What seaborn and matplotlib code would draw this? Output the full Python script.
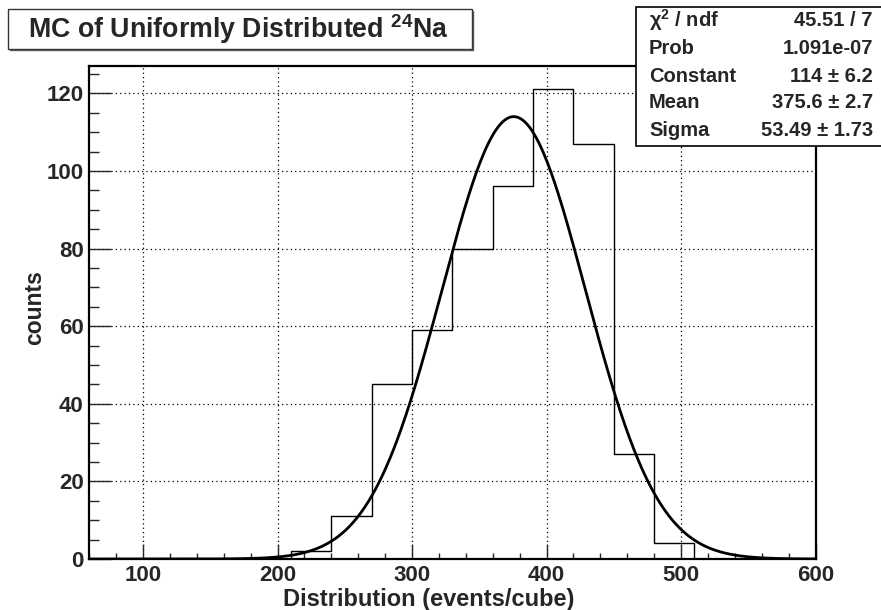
import numpy as np
import pandas as pd
import matplotlib
matplotlib.use("Agg")
import matplotlib.pyplot as plt
import seaborn as sns
from matplotlib.patches import Rectangle
from matplotlib.lines import Line2D
from matplotlib.ticker import MultipleLocator

# ---------------- data ----------------
bin_lo = [60, 90, 120, 150, 180, 210, 240, 270, 300, 330, 360, 390, 420, 450, 480, 510, 540, 570]
counts = [0, 0, 0, 0, 0, 2, 11, 45, 59, 80, 96, 121, 107, 27, 4, 0, 0, 0]
bin_width = 30
fit_constant = 114.0
fit_mean = 375.6
fit_sigma = 53.49
stat_labels = ["χ$^{2}$ / ndf", "Prob", "Constant", "Mean", "Sigma"]
stat_values = ["45.51 / 7", "1.091e-07", "114 ± 6.2", "375.6 ± 2.7", "53.49 ± 1.73"]
x_ticks = [100, 200, 300, 400, 500, 600]
y_ticks = [0, 20, 40, 60, 80, 100, 120]
title = "MC of Uniformly Distributed $^{24}$Na"
xlabel = "Distribution (events/cube)"
ylabel = "counts"

# ---------------- style ----------------
sns.set_style("white")
plt.rcParams['font.family'] = ['Liberation Sans', 'DejaVu Sans']
plt.rcParams['font.weight'] = 'bold'
plt.rcParams['mathtext.fontset'] = 'custom'
plt.rcParams['mathtext.rm'] = 'Liberation Sans:bold'
plt.rcParams['mathtext.it'] = 'Liberation Sans:bold'
plt.rcParams['mathtext.bf'] = 'Liberation Sans:bold'
plt.rcParams['mathtext.default'] = 'rm'

W, H = 881, 610
fig = plt.figure(figsize=(W / 100, H / 100), dpi=100)
fig.patch.set_facecolor("white")

ax_l, ax_r, ax_t, ax_b = 89.3, 815.5, 66.0, 559.0
ax = fig.add_axes([ax_l / W, 1 - ax_b / H, (ax_r - ax_l) / W, (ax_b - ax_t) / H])

df = pd.DataFrame({"center": np.array(bin_lo) + bin_width / 2, "count": counts})
edges = list(bin_lo) + [bin_lo[-1] + bin_width]
sns.histplot(data=df, x="center", weights="count", bins=edges, element="step",
             fill=False, color="black", linewidth=1.0, ax=ax, zorder=3)

xs = np.linspace(60, 600, 600)
fit = pd.DataFrame({"x": xs, "y": fit_constant * np.exp(-0.5 * ((xs - fit_mean) / fit_sigma) ** 2)})
sns.lineplot(data=fit, x="x", y="y", color="black", linewidth=2.0, ax=ax, zorder=4)

ax.set_xlim(60, 600)
ax.set_ylim(0, 127.05)
ax.set_xticks(x_ticks)
ax.set_yticks(y_ticks)
ax.xaxis.set_minor_locator(MultipleLocator(20))
ax.yaxis.set_minor_locator(MultipleLocator(5))
ax.grid(True, which="major", linestyle=(0, (1, 2.5)), color="black", linewidth=0.9, zorder=1)
ax.tick_params(axis="x", which="major", direction="in", length=11, width=1.0, pad=4,
               labelsize=16, bottom=True, top=False)
ax.tick_params(axis="x", which="minor", direction="in", length=4.5, width=1.0, bottom=True, top=False)
ax.tick_params(axis="y", which="major", direction="in", length=16, width=1.0, pad=4,
               labelsize=16, left=True, right=False)
ax.tick_params(axis="y", which="minor", direction="in", length=7.5, width=1.0, left=True, right=False)
for lab in ax.get_xticklabels() + ax.get_yticklabels():
    lab.set_fontweight("bold")
for s in ax.spines.values():
    s.set_linewidth(1.6)
    s.set_color("black")
    s.set_visible(True)

ax.set_xlabel(xlabel, fontsize=17, fontweight="bold", va="baseline")
ax.xaxis.set_label_coords((429 - ax_l) / (ax_r - ax_l), (ax_b - 606) / (ax_b - ax_t))
ax.set_ylabel(ylabel, fontsize=16.5, fontweight="bold", va="center")
ax.yaxis.set_label_coords((35 - ax_l) / (ax_r - ax_l), (ax_b - 307.5) / (ax_b - ax_t))


def fx(px):
    return px / W


def fy(py):
    return 1 - py / H


# title box
tb = (8.3, 9.3, 471.7, 49.3)
fig.add_artist(Rectangle((fx(tb[0]), fy(tb[3])), fx(tb[2] - tb[0]), (tb[3] - tb[1]) / H,
                         transform=fig.transFigure, facecolor="white", edgecolor="#333333",
                         linewidth=1.0, zorder=5))
fig.add_artist(Line2D([fx(tb[2] + 1), fx(tb[2] + 1)], [fy(tb[1] + 2), fy(tb[3] + 1)],
                      transform=fig.transFigure, color="#555555", linewidth=1.0, zorder=5))
fig.add_artist(Line2D([fx(tb[0] + 2), fx(tb[2] + 1)], [fy(tb[3] + 1), fy(tb[3] + 1)],
                      transform=fig.transFigure, color="#555555", linewidth=1.0, zorder=5))
fig.text(fx(238), fy(29.5), title, ha="center", va="center", fontsize=19.3,
         fontweight="bold", zorder=6)

# stat box
sb = (636.0, 7.3, 884.0, 145.5)
fig.add_artist(Rectangle((fx(sb[0]), fy(sb[3])), fx(sb[2] - sb[0]), (sb[3] - sb[1]) / H,
                         transform=fig.transFigure, facecolor="white", edgecolor="black",
                         linewidth=1.2, zorder=5))
row_y = [20, 48, 76, 103, 130]
for lab, val, y in zip(stat_labels, stat_values, row_y):
    fig.text(fx(649), fy(y), lab, ha="left", va="center", fontsize=14.5,
             fontweight="bold", zorder=6)
    fig.text(fx(873), fy(y), val, ha="right", va="center", fontsize=14.5,
             fontweight="bold", zorder=6)

fig.savefig("out.png", dpi=100, facecolor="white")
